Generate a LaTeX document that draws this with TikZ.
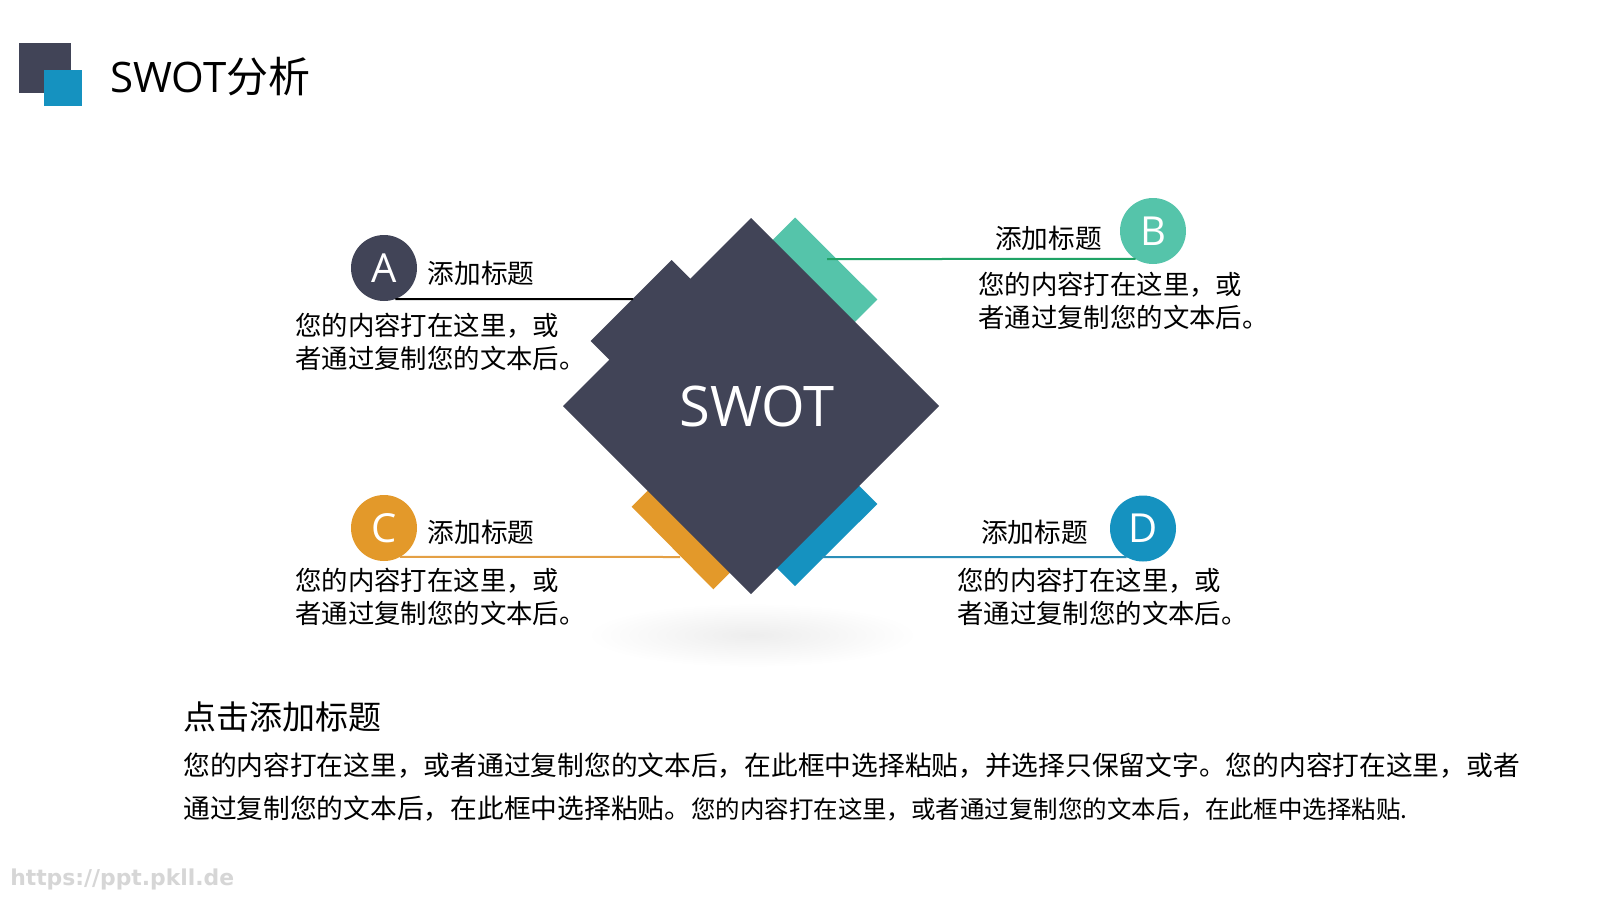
\documentclass[tikz,border=0pt]{standalone}
\usepackage{fontspec}
\setmainfont{Noto Sans CJK SC}
\newfontfamily\latinfont{Open Sans}
\newfontfamily\markfont{DejaVu Sans}
\usetikzlibrary{positioning,shapes.geometric}

\definecolor{slate}{HTML}{414457}
\definecolor{jade}{HTML}{55C4AA}
\definecolor{grass}{HTML}{1FA366}
\definecolor{amber}{HTML}{E3992A}
\definecolor{ochre}{HTML}{E4A045}
\definecolor{azure}{HTML}{1592C0}
\definecolor{steel}{HTML}{2A8EB8}
\definecolor{mark}{HTML}{D6D6D6}

\begin{document}
\begin{tikzpicture}
        [
            x = 0.75pt, y = -0.75pt,
            core/.style = {
                diamond, fill=slate, inner sep=0pt, outer sep=0pt,
                minimum width=282pt, minimum height=282pt},
            swot/.style = {text=white, inner sep=0pt,
                font=\latinfont\fontsize{42}{42}\selectfont},
            badge/.style = {
                circle, inner sep=0pt, outer sep=0pt, minimum size=49.5pt,
                text=white, font=\latinfont\fontsize{30}{30}\selectfont},
            head/.style = {inner sep=0pt, font=\fontsize{20}{24}\selectfont},
            body/.style = {
                inner sep=0pt, align=left, anchor=north west,
                font=\fontsize{19.8}{24.4}\selectfont},
            link/.style = {line width=1.5pt},
            para/.style = {inner sep=0pt, anchor=base west,
                font=\fontsize{20.05}{24}\selectfont}
        ]
        \fill[white] (0,0) rectangle (1600,900);
        \useasboundingbox (0,0) rectangle (1600,900);

        % title
        \fill[slate] (19,43) rectangle (71,93);
        \fill[azure] (44,70) rectangle (82,106);
        \node [inner sep=0pt, anchor=base west, font=\fontsize{31.5}{32}\selectfont]
            (Title) at (110,92) {{\latinfont SWOT}分析};

        % shadow under the diamond
        \shade[inner color=black!7, outer color=white] (752,635) ellipse [x radius=165, y radius=32];

        % strips behind the diamond
        \fill[jade] (795,217.5) -- (877.3,299.5) -- (845.5,331.3) -- (763.2,249.3) -- cycle;
        \fill[azure] (877.3,504) -- (795,586) -- (763.2,554.2) -- (845.5,472.2) -- cycle;
        \fill[amber] (631.7,506.7) -- (713.3,589.3) -- (741.6,561) -- (660,478.4) -- cycle;
        \fill[slate] (671.7,260) -- (590.7,341) -- (619,369.3) -- (700,288.3) -- cycle;

        \node [core] (Core) at (751,406) {};
        \node [swot] (Label) at ([xshift=4.5pt]Core.center) {SWOT};

        % badges
        \node [badge, fill=slate] (CircA) at (384,268) {A};
        \node [badge, fill=jade] (CircB) at (1153,231) {B};
        \node [badge, fill=amber] (CircC) at (384,528) {C};
        \node [badge, fill=azure] (CircD) at (1143,528.5) {D};

        \coordinate (EndA) at (633,299);
        \coordinate (EndB) at (827,259);
        \coordinate (EndC) at (680,557);
        \coordinate (EndD) at (822,557);
        \draw [link, black] (CircA.-70) -- (EndA);
        \draw [link, grass] (CircB.-122) -- (EndB);
        \draw [link, ochre] (CircC.-61.5) -- (EndC);
        \draw [link, steel] (CircD.-120.3) -- (EndD);

        \node [head, right=8pt of CircA, yshift=-3.75pt] (HeadA) {添加标题};
        \node [head, left=13.5pt of CircB, yshift=-5.25pt] (HeadB) {添加标题};
        \node [head, right=8pt of CircC, yshift=-3pt] (HeadC) {添加标题};
        \node [head, left=16.5pt of CircD, yshift=-2.6pt] (HeadD) {添加标题};

        \node [body] (TextA) at (295,313) {您的内容打在这里，或\\者通过复制您的文本后。};
        \node [body] (TextB) at (978,272) {您的内容打在这里，或\\者通过复制您的文本后。};
        \node [body] (TextC) at (295,568) {您的内容打在这里，或\\者通过复制您的文本后。};
        \node [body] (TextD) at (957,568) {您的内容打在这里，或\\者通过复制您的文本后。};

        % bottom block
        \node [inner sep=0pt, anchor=base west, font=\fontsize{24.75}{28}\selectfont]
            (Sub) at (183,729) {点击添加标题};
        \node [para] (ParaA) at (183,775)
            {您的内容打在这里，或者通过复制您的文本后，在此框中选择粘贴，并选择只保留文字。您的内容打在这里，或者};
        \node [para] (ParaB) at (183,818)
            {通过复制您的文本后，在此框中选择粘贴。{\fontsize{18.35}{20}\selectfont 您的内容打在这里，或者通过复制您的文本后，在此框中选择粘贴.}};

        \node [inner sep=0pt, anchor=base west, text=mark, font=\markfont\bfseries\fontsize{16.4}{17}\selectfont]
            (Mark) at (10,885) {https://ppt.pkll.de};
    \end{tikzpicture}
\end{document}
